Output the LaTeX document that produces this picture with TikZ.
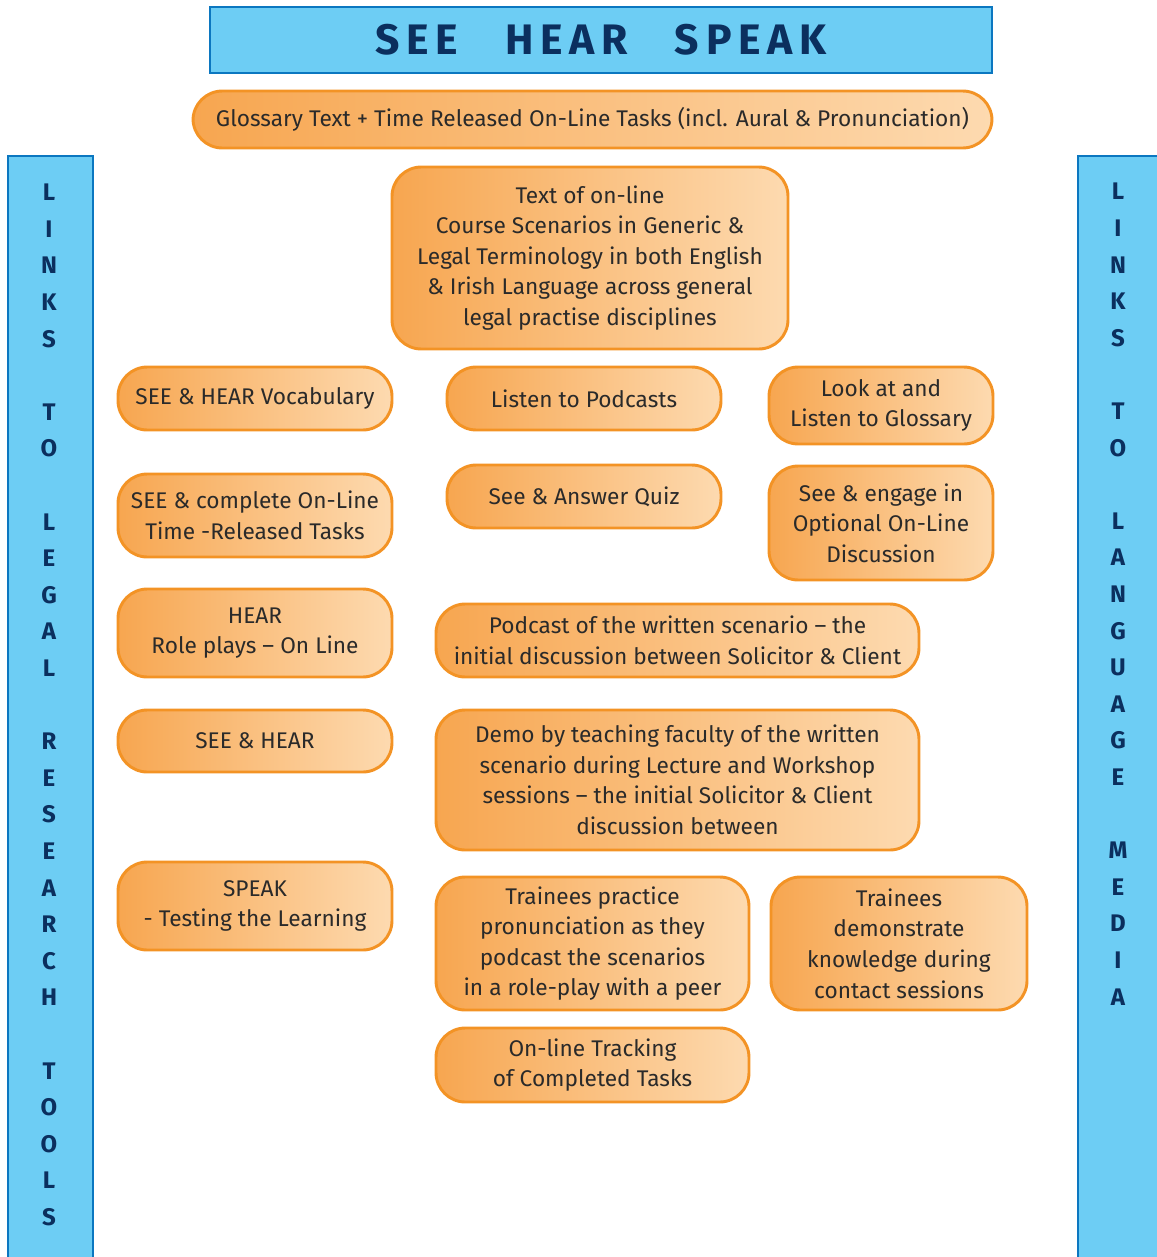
\documentclass[tikz,border=0pt]{standalone}
\usepackage{fontspec}
\setmainfont{Fira Sans}
\definecolor{barfill}{HTML}{6DCDF4}
\definecolor{bardraw}{HTML}{0B77C0}
\definecolor{navy}{HTML}{0B2F5E}
\definecolor{orL}{HTML}{F7A650}
\definecolor{orR}{HTML}{FDDAB0}
\definecolor{orD}{HTML}{F39325}
\definecolor{txt}{HTML}{2A2A2A}
\tikzset{
  bluebox/.style={draw=bardraw, line width=2.2pt, fill=barfill, inner sep=0pt},
  obox/.style={draw=orD, line width=2.2pt, left color=orL, right color=orR, rounded corners=22pt,
     inner sep=0pt, align=center, text=txt, font=\fontsize{17}{22.9}\selectfont},
  sidetxt/.style={text=navy, align=center, font=\fontsize{18}{27.45}\selectfont\bfseries, inner sep=0pt}
}
\newcommand\obx[6]{\node[obox, minimum width={(#4-#2)*0.75pt}, minimum height={(#5-#3)*0.75pt}]
  (#1) at ({(#2+#4)/2},{(#3+#5)/2}) {#6};}
\begin{document}
\begin{tikzpicture}[x=0.75pt,y=-0.75pt]
\useasboundingbox (0,0) rectangle (1157,1257);
% title
\node[bluebox, minimum width={782*0.75pt}, minimum height={66*0.75pt}, text=navy,
  font=\fontsize{32}{36}\selectfont\bfseries\addfontfeature{LetterSpace=16}] (title) at (601,40) {SEE\hspace{1.1em}HEAR\hspace{1.1em}SPEAK};
% side bars
\node[bluebox, minimum width={85*0.75pt}, minimum height={1110*0.75pt}] (lbar) at (50.5,711) {};
\node[bluebox, minimum width={90*0.75pt}, minimum height={1110*0.75pt}] (rbar) at (1123,711) {};
\node[sidetxt] (ltxt) at (49,705) {L\\I\\N\\K\\S\\\mbox{}\\T\\O\\\mbox{}\\L\\E\\G\\A\\L\\\mbox{}\\R\\E\\S\\E\\A\\R\\C\\H\\\mbox{}\\T\\O\\O\\L\\S};
\node[sidetxt, anchor=north] (rtxt) at (1118,183) {L\\I\\N\\K\\S\\\mbox{}\\T\\O\\\mbox{}\\L\\A\\N\\G\\U\\A\\G\\E\\\mbox{}\\M\\E\\D\\I\\A};
% orange boxes
\obx{gloss}{193}{91}{992}{148}{Glossary Text + Time Released On-Line Tasks (incl. Aural \& Pronunciation)}
\obx{textol}{392}{167}{788}{349}{Text of on-line\\Course Scenarios in Generic \&\\Legal Terminology in both English\\\& Irish Language across general\\legal practise disciplines}
\obx{vocab}{118}{367}{392}{430}{SEE \& HEAR Vocabulary}
\obx{podcasts}{447}{367}{721}{430}{Listen to Podcasts}
\obx{look}{769}{367}{993}{444}{Look at and\\Listen to Glossary}
\obx{complete}{118}{474}{392}{557}{SEE \& complete On-Line\\Time -Released Tasks}
\obx{quiz}{447}{465}{721}{528}{See \& Answer Quiz}
\obx{engage}{769}{466}{993}{580}{See \& engage in\\Optional On-Line\\Discussion}
\obx{hear}{118}{589}{392}{677}{HEAR\\Role plays – On Line}
\obx{podcast}{436}{604}{919}{677}{Podcast of the written scenario – the\\initial discussion between Solicitor \& Client}
\obx{seehear}{118}{710}{392}{772}{SEE \& HEAR}
\obx{demo}{436}{710}{919}{850}{Demo by teaching faculty of the written\\scenario during Lecture and Workshop\\sessions – the initial Solicitor \& Client\\discussion between}
\obx{speak}{118}{862}{392}{950}{SPEAK\\- Testing the Learning}
\obx{practice}{436}{877}{749}{1010}{Trainees practice\\pronunciation as they\\podcast the scenarios\\in a role-play with a peer}
\obx{demonstrate}{771}{877}{1027}{1010}{Trainees\\demonstrate\\knowledge during\\contact sessions}
\obx{tracking}{436}{1028}{749}{1102}{On-line Tracking\\of Completed Tasks}
\end{tikzpicture}
\end{document}
